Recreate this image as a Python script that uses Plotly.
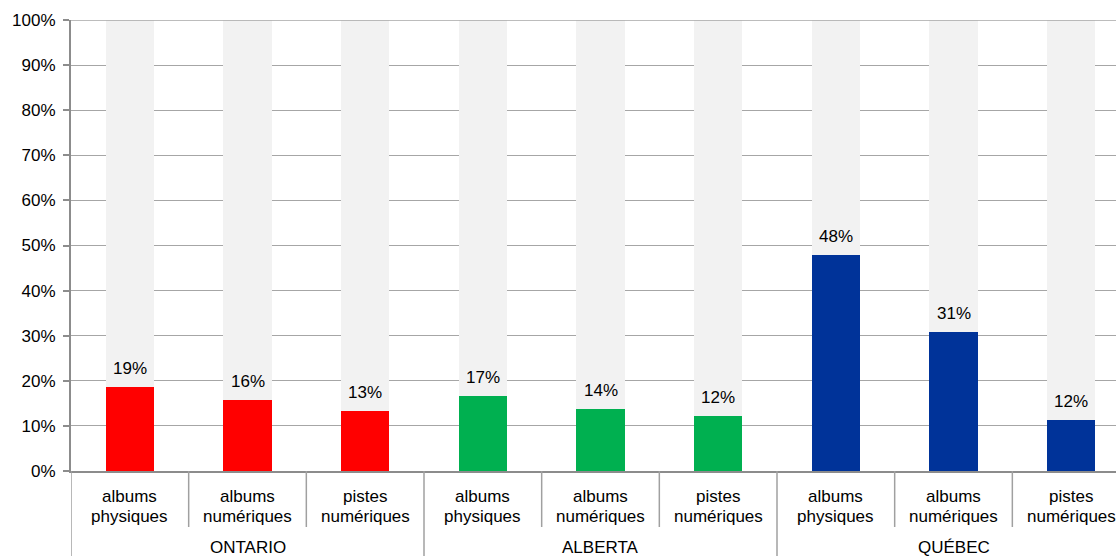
import plotly.graph_objects as go

# ---- data ----
groups = ["ONTARIO", "ALBERTA", "QUÉBEC"]
sub_labels = ["albums physiques", "albums numériques", "pistes numériques"]
values = [18.6, 15.7, 13.3, 16.6, 13.7, 12.1, 47.9, 30.8, 11.3]
value_labels = ["19%", "16%", "13%", "17%", "14%", "12%", "48%", "31%", "12%"]
group_colors = ["#FF0000", "#00B050", "#003399"]
total = 100

FONT = "Liberation Sans, Arial, sans-serif"
n = len(values)
xs = list(range(n))
colors = [group_colors[i // len(sub_labels)] for i in range(n)]

fig = go.Figure()
fig.add_trace(go.Bar(x=xs, y=values, marker=dict(color=colors, line_width=0),
                     width=0.41, hoverinfo="skip"))
fig.add_trace(go.Bar(x=xs, y=[total - v for v in values],
                     marker=dict(color="#F2F2F2", line_width=0),
                     width=0.41, hoverinfo="skip"))

annotations = []
for i, (v, t) in enumerate(zip(values, value_labels)):
    annotations.append(dict(x=i, y=v, xref="x", yref="y", text=t, showarrow=False,
                            yanchor="bottom", yshift=7,
                            font=dict(family=FONT, size=17, color="#000000")))

PLOT_H = 451.0
def py(pix):
    return -pix / PLOT_H

for i in range(n):
    top, bottom = sub_labels[i % len(sub_labels)].split(" ")
    annotations.append(dict(x=i, y=py(25), xref="x", yref="paper", text=top,
                            showarrow=False, yanchor="middle",
                            font=dict(family=FONT, size=17, color="#000000")))
    annotations.append(dict(x=i, y=py(45), xref="x", yref="paper", text=bottom,
                            showarrow=False, yanchor="middle",
                            font=dict(family=FONT, size=17, color="#000000")))

k = len(sub_labels)
for g, name in enumerate(groups):
    annotations.append(dict(x=g * k + (k - 1) / 2, y=py(76), xref="x", yref="paper",
                            text=name, showarrow=False, yanchor="middle",
                            font=dict(family=FONT, size=17, color="#000000")))

shapes = []
for i in range(n + 1):
    b = i - 0.5
    is_group = (i % k == 0)
    shapes.append(dict(type="line", xref="x", yref="paper", x0=b, x1=b,
                       y0=0, y1=py(90 if is_group else 56),
                       line=dict(color="#A0A0A0", width=1.5)))
shapes.append(dict(type="line", xref="paper", yref="y", x0=0, x1=1, y0=total, y1=total,
                   line=dict(color="#A6A6A6", width=1.3), layer="above"))

fig.update_layout(
    barmode="stack",
    width=1116, height=556,
    margin=dict(l=71, r=0, t=20, b=85),
    paper_bgcolor="white", plot_bgcolor="white",
    showlegend=False,
    annotations=annotations,
    shapes=shapes,
    font=dict(family=FONT, size=17, color="#000000"),
)
fig.update_xaxes(range=[-0.5, 8.381], showticklabels=False, showgrid=False,
                 zeroline=False, showline=True, linecolor="#8C8C8C", linewidth=2,
                 ticks="", fixedrange=True)
fig.update_yaxes(range=[0, 100], tickvals=list(range(0, 101, 10)),
                 ticktext=[f"{v}%" for v in range(0, 101, 10)],
                 showgrid=True, gridcolor="#A6A6A6", gridwidth=1.3,
                 zeroline=False, showline=True, linecolor="#8C8C8C", linewidth=2,
                 ticks="outside", ticklen=6, tickcolor="#8C8C8C", tickwidth=1.5,
                 ticklabelstandoff=4,
                 tickfont=dict(family=FONT, size=17, color="#000000"),
                 fixedrange=True)

fig.write_html("out.html", config={"displayModeBar": False},
               post_script="document.body.style.margin='0';document.body.style.overflow='hidden';")
